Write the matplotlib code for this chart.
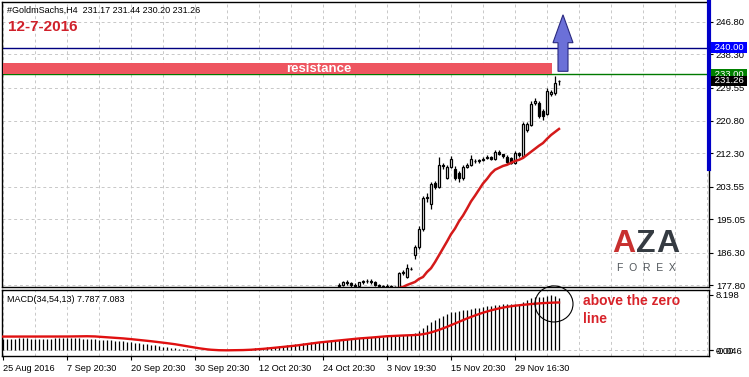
import matplotlib
matplotlib.use('Agg')
import matplotlib.pyplot as plt
import numpy as np
from matplotlib.patches import Rectangle, Ellipse, FancyArrow
from matplotlib.transforms import blended_transform_factory
from matplotlib.lines import Line2D

plt.rcParams['font.family'] = ['Liberation Sans', 'DejaVu Sans']

# H4 bars counted from 25 Aug 2016; older candles sit below the visible price range
n_bars = 140
first_candle = 84
opens = [177.6, 177.9, 178.6, 178.2, 177.8, 177.6, 178.5, 178.8, 178.9, 178.6,
         177.9, 177.5, 177.3, 177.6, 177.2, 177.3, 180.9, 180.0, 182.1, 185.6,
         187.7, 192.4, 200.5, 199.0, 204.6, 203.6, 209.2, 205.9, 208.8, 208.3,
         207.2, 205.9, 208.8, 209.2, 210.4, 210.2, 210.6, 211.1, 211.3, 210.9,
         212.6, 212.0, 211.4, 211.1, 209.9, 212.3, 211.5, 218.3, 219.8, 225.5,
         225.4, 223.4, 222.6, 227.8, 228.0, 231.17]
highs = [178.3, 178.9, 179.0, 178.5, 178.2, 178.7, 179.2, 179.4, 179.3, 178.9,
         178.1, 177.9, 178.0, 177.8, 177.6, 181.3, 181.8, 183.2, 182.4, 188.3,
         193.2, 201.2, 202.0, 204.8, 205.0, 211.4, 209.8, 209.2, 211.6, 209.0,
         207.6, 209.3, 209.7, 211.8, 210.8, 210.9, 211.3, 211.9, 211.6, 213.3,
         213.1, 212.2, 211.8, 211.4, 212.8, 212.7, 220.5, 220.4, 226.1, 226.9,
         225.9, 223.8, 229.5, 228.9, 232.7, 231.44]
lows = [177.2, 177.5, 177.8, 177.4, 177.3, 177.4, 178.0, 178.2, 178.1, 177.5,
        177.2, 177.0, 176.9, 176.8, 176.6, 176.9, 180.4, 179.6, 181.7, 184.6,
        187.2, 192.0, 199.5, 197.8, 203.0, 203.2, 208.3, 205.5, 208.4, 205.3,
        204.8, 205.4, 208.4, 208.9, 209.8, 209.9, 210.2, 210.7, 210.5, 210.5,
        211.8, 211.0, 209.6, 209.4, 209.5, 211.4, 211.0, 217.9, 219.4, 225.0,
        221.6, 221.0, 222.3, 227.4, 227.6, 230.20]
closes = [177.9, 178.6, 178.2, 177.8, 177.6, 178.5, 178.8, 178.9, 178.6, 177.9,
          177.5, 177.3, 177.6, 177.2, 177.4, 180.9, 181.3, 182.2, 181.9, 187.7,
          192.4, 200.7, 200.9, 204.3, 203.6, 209.3, 209.0, 208.6, 210.9, 205.8,
          205.9, 208.6, 209.2, 210.9, 210.2, 210.6, 210.9, 211.4, 210.9, 212.6,
          212.2, 211.5, 210.0, 209.9, 212.4, 211.8, 219.9, 219.9, 225.2, 226.0,
          222.1, 222.2, 228.6, 228.4, 230.7, 231.26]

ma_start = 98
ma_vals = [176.8, 177.0, 177.3, 177.8, 178.2, 178.6, 179.4, 179.9, 181.2, 182.2,
           183.8, 185.6, 187.4, 189.2, 191.1, 192.6, 194.5, 196.0, 197.8, 199.7,
           201.2, 202.8, 204.4, 205.6, 207.0, 208.0, 208.5, 209.0, 209.3, 209.8,
           210.3, 210.6, 211.1, 211.9, 212.7, 213.5, 214.3, 215.0, 216.1, 217.1,
           217.9, 218.7]

macd_hist = [1.70, 1.70, 1.71, 1.71, 1.72, 1.72, 1.72, 1.71, 1.71, 1.70,
             1.70, 1.70, 1.71, 1.72, 1.72, 1.73, 1.74, 1.74, 1.73, 1.72,
             1.70, 1.68, 1.64, 1.60, 1.55, 1.50, 1.46, 1.42, 1.38, 1.34,
             1.30, 1.24, 1.18, 1.10, 1.02, 0.94, 0.86, 0.78, 0.70, 0.61,
             0.52, 0.44, 0.36, 0.29, 0.22, 0.16, 0.11, 0.07, 0.04, 0.02,
             0.00, -0.02, -0.04, -0.046, -0.04, -0.03, -0.02, 0.00, 0.03, 0.06,
             0.10, 0.14, 0.19, 0.24, 0.29, 0.34, 0.40, 0.46, 0.52, 0.58,
             0.65, 0.72, 0.80, 0.88, 0.96, 1.02, 1.08, 1.14, 1.20, 1.26,
             1.32, 1.38, 1.43, 1.48, 1.53, 1.58, 1.63, 1.68, 1.73, 1.78,
             1.83, 1.87, 1.91, 1.95, 1.98, 2.01, 2.04, 2.07, 2.10, 2.14,
             2.20, 2.30, 2.40, 2.60, 2.90, 3.30, 3.70, 4.10, 4.40, 4.80,
             5.10, 5.30, 5.60, 5.70, 5.80, 5.90, 6.00, 6.10, 6.20, 6.30,
             6.40, 6.50, 6.60, 6.70, 6.75, 6.80, 6.80, 6.80, 6.85, 6.90,
             7.20, 7.40, 7.70, 7.90, 7.90, 7.90, 8.10, 8.198, 8.10, 7.787]
macd_signal = [2.00, 2.00, 2.00, 2.00, 2.00, 2.00, 2.00, 2.00, 2.00, 2.00,
               2.00, 2.00, 2.00, 2.00, 2.00, 2.00, 2.01, 2.02, 2.04, 2.05,
               2.06, 2.05, 2.04, 2.02, 1.98, 1.94, 1.90, 1.86, 1.82, 1.78,
               1.73, 1.68, 1.62, 1.56, 1.50, 1.44, 1.38, 1.31, 1.24, 1.17,
               1.10, 1.02, 0.94, 0.86, 0.76, 0.66, 0.56, 0.46, 0.36, 0.26,
               0.18, 0.10, 0.04, 0.00, -0.03, -0.046, -0.046, -0.04, -0.03, -0.02,
               -0.01, 0.01, 0.04, 0.08, 0.12, 0.17, 0.22, 0.28, 0.34, 0.40,
               0.46, 0.52, 0.58, 0.64, 0.72, 0.80, 0.88, 0.96, 1.04, 1.12,
               1.18, 1.24, 1.30, 1.36, 1.42, 1.48, 1.54, 1.60, 1.66, 1.72,
               1.76, 1.80, 1.85, 1.90, 1.95, 2.00, 2.05, 2.08, 2.11, 2.14,
               2.16, 2.18, 2.20, 2.23, 2.28, 2.36, 2.47, 2.62, 2.80, 3.00,
               3.22, 3.45, 3.70, 3.95, 4.20, 4.45, 4.70, 4.93, 5.15, 5.36,
               5.56, 5.74, 5.91, 6.06, 6.20, 6.32, 6.43, 6.52, 6.60, 6.67,
               6.73, 6.79, 6.85, 6.90, 6.95, 6.99, 7.02, 7.05, 7.07, 7.083]

price_ticks = [177.80, 186.30, 195.05, 203.55, 212.30, 220.80, 229.55, 238.30, 246.80]
macd_ticks = [-0.046, 0.0, 8.198]
macd_tick_labels = ['-0.046', '0.00', '8.198']
time_labels = ['25 Aug 2016', '7 Sep 20:30', '20 Sep 20:30', '30 Sep 20:30', '12 Oct 20:30',
               '24 Oct 20:30', '3 Nov 19:30', '15 Nov 20:30', '29 Nov 16:30']
label_every = 16
grid_every = 8

resistance = 233.00
resistance_top = 236.0
target = 240.00
last_close = 231.26
header = '#GoldmSachs,H4  231.17 231.44 230.20 231.26'
macd_title = 'MACD(34,54,13) 7.787 7.083'

# ---- figure layout (pixel based, 749x377) ----
W, H = 749, 377
fig = plt.figure(figsize=(W / 100, H / 100), dpi=100, facecolor='white')
ax = fig.add_axes([2 / W, 1 - 287 / H, 707 / W, 285 / H])
ax2 = fig.add_axes([2 / W, 1 - 356 / H, 707 / W, 66 / H])

xmax = 176.5
for a in (ax, ax2):
    a.set_xlim(-0.25, xmax)
    for s in a.spines.values():
        s.set_linewidth(1.0)
        s.set_color('black')
    for gx in np.arange(0, xmax, grid_every):
        a.axvline(gx, color='#c8c8c8', lw=0.7, ls=(0, (3, 3)), zorder=0)

ax.set_ylim(177.28, 251.96)
ax2.set_ylim(-0.894, 8.94)

for p in price_ticks:
    ax.axhline(p, color='#c8c8c8', lw=0.7, ls=(0, (3, 3)), zorder=0)
ax2.axhline(0, color='#c8c8c8', lw=0.7, ls=(0, (3, 3)), zorder=0)

# ---- candles ----
idx = np.arange(first_candle, n_bars)
o = np.array(opens); h = np.array(highs); l = np.array(lows); c = np.array(closes)
ax.vlines(idx, l, h, color='black', lw=0.9, zorder=3)
up = c >= o
bw = 0.7
ax.bar(idx[up], (c - o)[up], bottom=o[up], width=bw, color='white',
       edgecolor='black', linewidth=0.9, zorder=4)
ax.bar(idx[~up], (o - c)[~up], bottom=c[~up], width=bw, color='black',
       edgecolor='black', linewidth=0.9, zorder=4)

# moving average
ma_idx = np.arange(ma_start, ma_start + len(ma_vals))
ax.plot(ma_idx, ma_vals, color='#d41a1a', lw=1.8, zorder=5)

# levels
ax.axhline(target, color='#000080', lw=1.0, zorder=2)
ax.axhline(resistance, color='#007a00', lw=1.0, zorder=2)
ax.add_patch(Rectangle((0, resistance), 137.25, resistance_top - resistance,
                       facecolor='#ee5560', edgecolor='none', zorder=6))
ax.text(79, (resistance + resistance_top) / 2, 'resistance', color='white',
        fontsize=9.5, fontweight='bold', ha='center', va='center', zorder=7)

# arrow
ax.add_patch(FancyArrow(140, 233.8, 0, 248.6 - 233.8, width=2.5, head_width=5.0,
                        head_length=7.3, length_includes_head=True,
                        facecolor='#6b70d8', edgecolor='#2a2a80', lw=0.8, zorder=8))

# right price axis
ax.yaxis.tick_right()
ax.set_yticks(price_ticks)
ax.set_yticklabels(['%.2f' % p for p in price_ticks])
ax.tick_params(axis='y', direction='out', length=3, width=0.8, labelsize=6.8, pad=2)
ax.set_xticks([])
ax.add_line(Line2D([1.0, 1.0], [0.414, 1.0], transform=ax.transAxes, color='#0000c8',
                   lw=3.0, clip_on=False, zorder=10))

tr = blended_transform_factory(ax.transAxes, ax.transData)
for val, fc in [(target, '#0000ff'), (resistance, '#008000'), (last_close, '#000000')]:
    ax.text(1.004, val, ' %.2f ' % val, transform=tr, color='white', fontsize=6.8,
            ha='left', va='center', clip_on=False, zorder=12,
            bbox=dict(boxstyle='square,pad=0.1', facecolor=fc, edgecolor='none'))

# logo
for ch, xp, col in [('A', 624, '#c8302f'), ('Z', 646, '#353b42'), ('A', 668, '#353b42')]:
    fig.text(xp / W, 1 - 244 / H, ch, color=col, fontsize=23, fontweight='bold',
             ha='center', va='center')
fig.text(646 / W, 1 - 268 / H, 'F  O  R  E  X', color='#50555a', fontsize=7.5,
         ha='center', va='center')

# header texts
fig.text(7 / W, 1 - 10 / H, header, fontsize=6.5, ha='left', va='center')
fig.text(8 / W, 1 - 27 / H, '12-7-2016', fontsize=11, fontweight='bold',
         color='#d0202a', ha='left', va='center')

# ---- MACD panel ----
all_idx = np.arange(n_bars)
ax2.vlines(all_idx, 0, macd_hist, color='black', lw=0.9, zorder=3)
ax2.plot(all_idx, macd_signal, color='#e01010', lw=1.7, zorder=4)
ax2.yaxis.tick_right()
ax2.set_yticks(macd_ticks)
ax2.set_yticklabels(macd_tick_labels)
ax2.tick_params(axis='y', direction='out', length=3, width=0.8, labelsize=6.8, pad=2)
ax2.set_xticks(np.arange(0, n_bars, label_every))
ax2.set_xticklabels(time_labels, ha='left')
ax2.tick_params(axis='x', direction='out', length=3, width=0.8, labelsize=6.6, pad=3)
ax2.text(0.007, 0.86, macd_title, transform=ax2.transAxes, fontsize=6.5,
         ha='left', va='center')

ax2.add_patch(Ellipse((137.75, 6.86), 9.5, 5.37, facecolor='none', edgecolor='black',
                      lw=0.8, clip_on=False, zorder=9))
ax2.text(145, 7.3, 'above the zero', color='#d8232a', fontsize=10, fontweight='bold',
         ha='left', va='center', clip_on=False)
ax2.text(145, 4.6, 'line', color='#d8232a', fontsize=10, fontweight='bold',
         ha='left', va='center', clip_on=False)

fig.savefig('out.png', dpi=100)
